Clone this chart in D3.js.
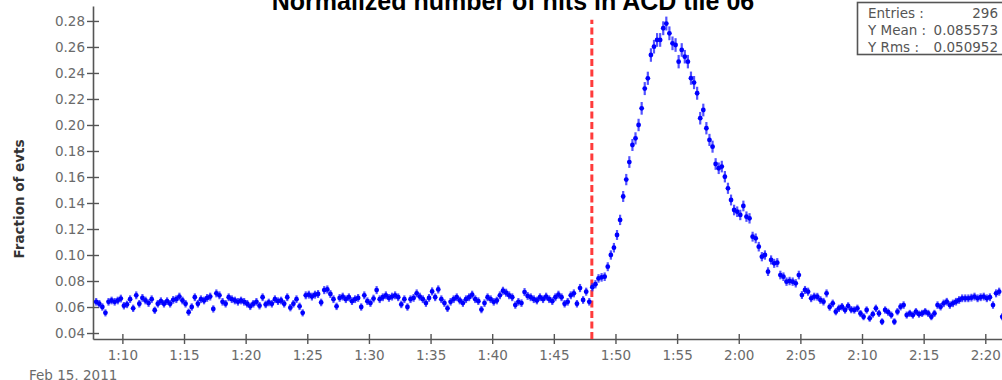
<!DOCTYPE html>
<html>
<head>
<meta charset="utf-8">
<script src="https://cdn.jsdelivr.net/npm/d3@7"></script>
<style>
	body { margin: 0; background: #fff; overflow: hidden; }
	svg { display: block; }
</style>
</head>
<body>
<svg id="chart"></svg>
<script>
const WIDTH = 1002;
const HEIGHT = 380;

const title = 'Normalized number of hits in ACD tile 06';
const yLabel = 'Fraction of evts';
const dateLabel = 'Feb 15, 2011';

// one value per 15 s bin
const fractions = [
	0.064, 0.0625, 0.060, 0.0555, 0.064, 0.065, 0.064, 0.065, 0.0665, 0.061,
	0.062, 0.066, 0.059, 0.069, 0.0625, 0.067, 0.065, 0.063, 0.066, 0.0575,
	0.0625, 0.0645, 0.0625, 0.0645, 0.0625, 0.0655, 0.066, 0.068, 0.065, 0.0625,
	0.056, 0.060, 0.0675, 0.0625, 0.066, 0.065, 0.067, 0.068, 0.0585, 0.0705,
	0.069, 0.064, 0.0625, 0.0675, 0.066, 0.065, 0.064, 0.065, 0.064, 0.0625,
	0.0605, 0.0625, 0.064, 0.061, 0.0675, 0.062, 0.0635, 0.0625, 0.066, 0.0645,
	0.065, 0.0625, 0.0675, 0.0595, 0.0625, 0.066, 0.0605, 0.0555, 0.069, 0.0695,
	0.068, 0.0695, 0.070, 0.0635, 0.073, 0.0735, 0.070, 0.066, 0.0605, 0.067,
	0.068, 0.066, 0.0675, 0.0645, 0.066, 0.067, 0.060, 0.069, 0.0645, 0.063,
	0.0665, 0.073, 0.066, 0.0675, 0.069, 0.067, 0.068, 0.069, 0.0675, 0.062,
	0.066, 0.060, 0.066, 0.067, 0.0705, 0.068, 0.066, 0.063, 0.067, 0.072,
	0.0675, 0.0735, 0.066, 0.063, 0.059, 0.064, 0.066, 0.0675, 0.065, 0.063,
	0.066, 0.0675, 0.0695, 0.066, 0.0645, 0.058, 0.063, 0.0675, 0.066, 0.064,
	0.065, 0.069, 0.0725, 0.071, 0.069, 0.0675, 0.0615, 0.064, 0.063, 0.0715,
	0.0685, 0.0675, 0.066, 0.065, 0.0675, 0.066, 0.068, 0.066, 0.0645, 0.0675,
	0.0695, 0.0675, 0.0625, 0.064, 0.069, 0.0705, 0.0625, 0.0746, 0.0654, 0.0718,
	0.064, 0.0752, 0.0775, 0.082, 0.0828, 0.0833, 0.091, 0.100, 0.1056, 0.1154,
	0.127, 0.145, 0.158, 0.1715, 0.1846, 0.1897, 0.200, 0.2128, 0.228, 0.2359,
	0.2538, 0.2602, 0.2654, 0.2654, 0.2744, 0.278, 0.2705, 0.2628, 0.2615, 0.2487,
	0.2577, 0.2525, 0.2487, 0.236, 0.2326, 0.2244, 0.2052, 0.2115, 0.1975, 0.1885,
	0.1833, 0.170, 0.1667, 0.168, 0.1602, 0.1513, 0.1423, 0.1346, 0.1333, 0.1308,
	0.1377, 0.1295, 0.1282, 0.1141, 0.1128, 0.1064, 0.0987, 0.100, 0.0872, 0.0962,
	0.0936, 0.0941, 0.0846, 0.0833, 0.0795, 0.080, 0.0795, 0.0782, 0.0846, 0.0692,
	0.0731, 0.0718, 0.0667, 0.068, 0.0679, 0.0654, 0.0641, 0.0705, 0.060, 0.0628,
	0.0564, 0.059, 0.0602, 0.0577, 0.0608, 0.058, 0.0577, 0.059, 0.055, 0.0525,
	0.0577, 0.0513, 0.0545, 0.059, 0.0551, 0.0487, 0.0577, 0.056, 0.0538, 0.0487,
	0.0564, 0.0602, 0.0615, 0.0538, 0.0551, 0.0538, 0.0564, 0.0545, 0.0551, 0.0564,
	0.0551, 0.0525, 0.0551, 0.0615, 0.0602, 0.0628, 0.0641, 0.0615, 0.0628, 0.0641,
	0.0654, 0.0667, 0.0667, 0.0667, 0.0672, 0.068, 0.0667, 0.0675, 0.068, 0.0667,
	0.0675, 0.0615, 0.0705, 0.0718, 0.0525, 0.060
];

const firstBinCentre = new Date('2011-02-15T01:07:52.500Z');
const binSeconds = 15;
const eventsPerBin = 7000;

const timeDomain = [new Date('2011-02-15T01:07:37Z'), new Date('2011-02-15T02:22:10Z')];
const valueDomain = [0.0354, 0.2915];
const yTickValues = [0.04, 0.06, 0.08, 0.10, 0.12, 0.14, 0.16, 0.18, 0.20, 0.22, 0.24, 0.26, 0.28];

const markerTime = new Date('2011-02-15T01:48:05Z');
const markerTop = 0.281;

const statsLabels = ['Entries :', 'Y Mean :', 'Y Rms :'];
const statsValues = [String(fractions.length), '0.085573', '0.050952'];

const points = fractions.map((v, i) => ({
	time: new Date(firstBinCentre.getTime() + i * binSeconds * 1000),
	value: v,
	err: Math.sqrt(v * (1 - v) / eventsPerBin),
}));

const svg = d3.select('#chart').attr('width', WIDTH).attr('height', HEIGHT);

const x = d3.scaleUtc().domain(timeDomain).range([93, 1012]);
const y = d3.scaleLinear().domain(valueDomain).range([339, 6]);
const halfBin = (x(new Date(firstBinCentre.getTime() + binSeconds * 1000)) - x(firstBinCentre)) / 2;

// title, clipped by the top of the picture as in the original
svg.append('text')
	.attr('x', 513)
	.attr('y', 10)
	.attr('text-anchor', 'middle')
	.style('font', 'bold 25px "Liberation Sans", Arial, sans-serif')
	.style('fill', '#000')
	.text(title);

// y axis
const yAxis = svg.append('g')
	.attr('transform', 'translate(93,0)')
	.call(d3.axisLeft(y).tickValues(yTickValues).tickFormat(d3.format('.2f')).tickSize(6).tickSizeOuter(0).tickPadding(2));
yAxis.selectAll('.tick line').attr('x1', 6);

// x axis
const xAxis = svg.append('g')
	.attr('transform', 'translate(0,339)')
	.call(d3.axisBottom(x).ticks(d3.utcMinute.every(5)).tickFormat(d3.utcFormat('%-H:%M')).tickSize(5).tickSizeOuter(0).tickPadding(6));
xAxis.selectAll('.tick line').attr('y1', -5);

[yAxis, xAxis].forEach((axis) => {
	axis.select('.domain').attr('stroke', '#555').attr('stroke-width', 1.6);
	axis.selectAll('.tick line').attr('stroke', '#555').attr('stroke-width', 1.4);
	axis.selectAll('.tick text')
		.style('font', '13.5px "DejaVu Sans", sans-serif')
		.attr('fill', '#6a6a6a');
});

svg.append('text')
	.attr('x', 29)
	.attr('y', 380)
	.style('font', '13.5px "DejaVu Sans", sans-serif')
	.attr('fill', '#6a6a6a')
	.text(dateLabel);

svg.append('text')
	.attr('transform', 'translate(24,199) rotate(-90)')
	.attr('text-anchor', 'middle')
	.style('font', 'bold 13.5px "DejaVu Sans", sans-serif')
	.attr('fill', '#333')
	.text(yLabel);

// dashed marker
svg.append('line')
	.attr('x1', x(markerTime))
	.attr('x2', x(markerTime))
	.attr('y1', y(valueDomain[0]))
	.attr('y2', y(markerTop))
	.attr('stroke', '#ff3b3b')
	.attr('stroke-width', 3)
	.attr('stroke-dasharray', '7,3.5');

// points with error bars
const pointGroups = svg.append('g')
	.selectAll('g')
	.data(points)
	.enter()
	.append('g')
	.attr('transform', (d) => `translate(${x(d.time)},0)`);

pointGroups.append('line')
	.attr('y1', (d) => y(d.value - d.err))
	.attr('y2', (d) => y(d.value + d.err))
	.attr('stroke', '#2828ff')
	.attr('stroke-opacity', 0.8)
	.attr('stroke-width', 2.2);

pointGroups.append('line')
	.attr('x1', -halfBin)
	.attr('x2', halfBin)
	.attr('y1', (d) => y(d.value))
	.attr('y2', (d) => y(d.value))
	.attr('stroke', '#0000ff')
	.attr('stroke-width', 1.6);

pointGroups.append('circle')
	.attr('cy', (d) => y(d.value))
	.attr('r', 2.4)
	.attr('fill', '#0000ff');

// stats box
const stats = svg.append('g');
stats.append('rect')
	.attr('x', 857.5)
	.attr('y', 2.5)
	.attr('width', 160)
	.attr('height', 52)
	.attr('fill', '#fff')
	.attr('stroke', '#555')
	.attr('stroke-width', 1.6);

stats.selectAll('text.label')
	.data(statsLabels)
	.enter()
	.append('text')
	.attr('class', 'label')
	.attr('x', 868)
	.attr('y', (_d, i) => 17.5 + i * 17)
	.style('font', '13.5px "DejaVu Sans", sans-serif')
	.attr('fill', '#555')
	.text((d) => d);

stats.selectAll('text.value')
	.data(statsValues)
	.enter()
	.append('text')
	.attr('class', 'value')
	.attr('x', 998)
	.attr('y', (_d, i) => 17.5 + i * 17)
	.attr('text-anchor', 'end')
	.style('font', '13.5px "DejaVu Sans", sans-serif')
	.attr('fill', '#555')
	.text((d) => d);
</script>
</body>
</html>
